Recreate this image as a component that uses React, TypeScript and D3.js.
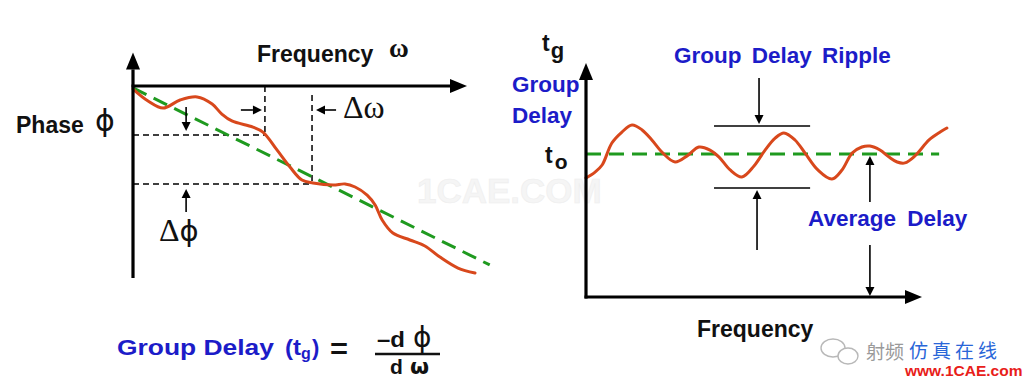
import React from "react";
import * as d3 from "d3";

// ---------- Left panel data (frequency ω vs phase ϕ) ----------
const phaseFreq = [0, 4.5, 9.0, 14.1, 19.2, 23.7, 26.6, 29.6, 35.9, 38.9, 43.1, 47.0, 50.6, 53.9, 59.9, 63.5, 66.5, 70.1, 72.5, 74.6, 77.8, 82.9, 87.4, 91.9, 97.3, 102.4];
const phaseValues = [-1.6, -7.8, -11.5, -7.3, -5.7, -9.4, -14.6, -18.2, -21.4, -24.0, -33.3, -42.2, -49.0, -50.5, -51.6, -51.0, -52.6, -56.8, -62.0, -69.8, -76.6, -80.2, -83.3, -89.1, -94.8, -97.4];
const phaseTrendFreq = [0, 106.8];
const phaseTrendValues = [-1.0, -93.2];
// Δω / Δϕ construction points
const deltaFreq = [39.5, 53.6];
const deltaPhase = [-25.5, -51.0];

// ---------- Right panel data (frequency vs group delay) ----------
const delayFreq = [0, 2.7, 4.8, 7.7, 10.7, 13.7, 16.7, 19.6, 22.9, 26.5, 30.1, 33.6, 36.9, 39.6, 42.9, 46.4, 50.0, 53.3, 56.3, 58.9, 62.2, 65.2, 69.0, 73.2, 76.2, 79.2, 82.1, 84.5, 87.5, 90.2, 92.6, 94.9, 97.9, 102.1, 105.4, 107.4];
const delayValues = [50.9, 53.4, 56.4, 65.8, 70.5, 73.5, 71.4, 67.1, 61.5, 57.7, 60.3, 64.1, 62.8, 59.8, 54.3, 51.3, 56.0, 62.8, 67.9, 70.1, 67.1, 61.5, 54.3, 50.4, 54.3, 61.5, 64.1, 64.5, 62.8, 59.8, 57.7, 57.3, 60.3, 67.1, 70.5, 72.2];
const averageDelay = 61.1;
const averageDelayEnd = 105.1;
const rippleTop = 73.1;
const rippleBottom = 46.6;
const rippleSpan = [38.1, 66.7];
const rippleArrowFreq = 51.2;
const averageArrowFreq = 84.5;

const RED = "#d8481c";
const GREEN = "#1f9a1f";
const BLUE = "#1c1cc8";
const SANS = "'Liberation Sans', Arial, sans-serif";

function Arrow({ x1, y1, x2, y2, w = 1.6, head = 9, hw = 4.5, color = "#000" }: any) {
  const ang = Math.atan2(y2 - y1, x2 - x1);
  const bx = x2 - head * Math.cos(ang);
  const by = y2 - head * Math.sin(ang);
  const px = -Math.sin(ang) * hw;
  const py = Math.cos(ang) * hw;
  return (
    <g>
      <line x1={x1} y1={y1} x2={bx} y2={by} stroke={color} strokeWidth={w} />
      <polygon points={`${x2},${y2} ${bx + px},${by + py} ${bx - px},${by - py}`} fill={color} />
    </g>
  );
}

export default function App() {
  const xL = d3.scaleLinear().domain([0, 100]).range([133, 467]);
  const yL = d3.scaleLinear().domain([0, -100]).range([86, 278]);
  const xR = d3.scaleLinear().domain([0, 100]).range([586, 922]);
  const yR = d3.scaleLinear().domain([0, 100]).range([297, 63]);

  const phaseLine = d3
    .line<number>()
    .x((_, i) => xL(phaseFreq[i]))
    .y((d) => yL(d))
    .curve(d3.curveCatmullRom.alpha(0.5));
  const delayLine = d3
    .line<number>()
    .x((_, i) => xR(delayFreq[i]))
    .y((d) => yR(d))
    .curve(d3.curveCatmullRom.alpha(0.5));

  return (
    <svg width={1024} height={379} style={{ position: "absolute", left: 0, top: 0, background: "#fff" }}>
      <rect width={1024} height={379} fill="#fff" />
      {/* watermark */}
      <text x={417} y={203} fontFamily={SANS} fontWeight="bold" fontSize={35} fill="#f5f5f5" stroke="#eeeeee" strokeWidth={0.6}>1CAE.COM</text>

      {/* ================= LEFT PANEL ================= */}
      <g stroke="#000" strokeWidth={1.5} strokeDasharray="6,4" fill="none">
        <line x1={xL(deltaFreq[0])} y1={yL(0)} x2={xL(deltaFreq[0])} y2={yL(deltaPhase[0])} />
        <line x1={xL(deltaFreq[1])} y1={yL(-4.7)} x2={xL(deltaFreq[1])} y2={yL(deltaPhase[1])} />
        <line x1={xL(0)} y1={yL(deltaPhase[0])} x2={xL(deltaFreq[0])} y2={yL(deltaPhase[0])} />
        <line x1={xL(0)} y1={yL(deltaPhase[1])} x2={xL(deltaFreq[1])} y2={yL(deltaPhase[1])} />
      </g>
      <line x1={xL(phaseTrendFreq[0])} y1={yL(phaseTrendValues[0])} x2={xL(phaseTrendFreq[1])} y2={yL(phaseTrendValues[1])}
        stroke={GREEN} strokeWidth={3} strokeDasharray="15,8" />
      <path d={phaseLine(phaseValues) || ""} fill="none" stroke={RED} strokeWidth={3} strokeLinecap="round" />
      <Arrow x1={xL(0)} y1={yL(-100)} x2={xL(0)} y2={yL(17.5)} w={3.2} head={17} hw={7} />
      <Arrow x1={xL(0) - 1.5} y1={yL(0)} x2={xL(100)} y2={yL(0)} w={3.2} head={17} hw={7} />
      <Arrow x1={xL(32.3)} y1={110} x2={xL(deltaFreq[0]) - 3} y2={110} />
      <Arrow x1={xL(60.8)} y1={110} x2={xL(deltaFreq[1]) + 4} y2={110} />
      <Arrow x1={xL(15.9)} y1={107} x2={xL(15.9)} y2={yL(deltaPhase[0]) - 4} />
      <Arrow x1={xL(15.9)} y1={212} x2={xL(15.9)} y2={yL(deltaPhase[1]) + 5} />

      <text x={257} y={62} fontFamily={SANS} fontWeight="bold" fontSize={23} fill="#111">Frequency</text>
      <text x={389} y={57} fontFamily="'Liberation Serif', serif" fontWeight="bold" fontSize={27} fill="#111">ω</text>
      <text x={16} y={133} fontFamily={SANS} fontWeight="bold" fontSize={23} fill="#111">Phase</text>
      <text x={95} y={131} fontFamily="'DejaVu Sans', sans-serif" fontSize={30} fill="#111">ϕ</text>
      <text x={343} y={118} fontFamily="'Liberation Serif', serif" fontSize={32} fill="#111">Δω</text>
      <text x={159} y={241} fontFamily="'Liberation Serif', serif" fontSize={32} fill="#111">Δ<tspan fontFamily="'DejaVu Sans', sans-serif" fontSize={29}>ϕ</tspan></text>

      {/* ================= RIGHT PANEL ================= */}
      <line x1={xR(0)} y1={yR(averageDelay)} x2={xR(averageDelayEnd)} y2={yR(averageDelay)}
        stroke={GREEN} strokeWidth={3} strokeDasharray="15,8" />
      <path d={delayLine(delayValues) || ""} fill="none" stroke={RED} strokeWidth={3} strokeLinecap="round" />
      <Arrow x1={xR(0)} y1={yR(0) + 1.5} x2={xR(0)} y2={yR(100)} w={3.2} head={17} hw={7} />
      <Arrow x1={xR(0) - 1.5} y1={yR(0)} x2={xR(100)} y2={yR(0)} w={3.2} head={17} hw={7} />

      <g stroke="#000" strokeWidth={1.6}>
        <line x1={xR(rippleSpan[0])} y1={yR(rippleTop)} x2={xR(rippleSpan[1])} y2={yR(rippleTop)} />
        <line x1={xR(rippleSpan[0])} y1={yR(rippleBottom)} x2={xR(rippleSpan[1])} y2={yR(rippleBottom)} />
      </g>
      <Arrow x1={xR(rippleArrowFreq) + 1} y1={78} x2={xR(rippleArrowFreq) + 1} y2={yR(rippleTop) - 2} />
      <Arrow x1={xR(rippleArrowFreq) - 1} y1={250} x2={xR(rippleArrowFreq) - 1} y2={yR(rippleBottom) + 2} />
      <Arrow x1={xR(averageArrowFreq)} y1={202} x2={xR(averageArrowFreq)} y2={yR(averageDelay) + 2} />
      <Arrow x1={xR(averageArrowFreq)} y1={245} x2={xR(averageArrowFreq)} y2={yR(0) - 1} />

      <text x={542} y={51} fontFamily={SANS} fontWeight="bold" fontSize={23} fill="#111">t<tspan dx={1} dy={7} fontSize={22}>g</tspan></text>
      <text x={512} y={92} fontFamily={SANS} fontWeight="bold" fontSize={22.5} fill={BLUE}>Group</text>
      <text x={512} y={123} fontFamily={SANS} fontWeight="bold" fontSize={22.5} fill={BLUE}>Delay</text>
      <text x={545} y={163} fontFamily={SANS} fontWeight="bold" fontSize={23} fill="#111">t<tspan dx={2} dy={6} fontSize={21}>o</tspan></text>
      <text x={674} y={63} fontFamily={SANS} fontWeight="bold" fontSize={22.5} fill={BLUE} wordSpacing={4}>Group Delay Ripple</text>
      <text x={808} y={226} fontFamily={SANS} fontWeight="bold" fontSize={22.5} fill={BLUE} wordSpacing={5}>Average Delay</text>
      <text x={697} y={337} fontFamily={SANS} fontWeight="bold" fontSize={23} fill="#111">Frequency</text>

      {/* formula */}
      <text x={117} y={355} fontFamily={SANS} fontWeight="bold" fontSize={22} fill={BLUE} textLength={157} lengthAdjust="spacingAndGlyphs">Group Delay</text>
      <text x={285} y={355} fontFamily={SANS} fontWeight="bold" fontSize={22} fill={BLUE} textLength={16} lengthAdjust="spacingAndGlyphs">(t</text>
      <text x={301} y={359} fontFamily={SANS} fontWeight="bold" fontSize={16} fill={BLUE}>g</text>
      <text x={312} y={355} fontFamily={SANS} fontWeight="bold" fontSize={22} fill={BLUE}>)</text>
      <text x={330} y={358} fontFamily={SANS} fontWeight="bold" fontSize={27} fill="#111" textLength={18} lengthAdjust="spacingAndGlyphs">=</text>
      <text x={377} y={347} fontFamily={SANS} fontWeight="bold" fontSize={22} fill="#111" textLength={28} lengthAdjust="spacingAndGlyphs">–d</text>
      <text x={413} y={347} fontFamily="'DejaVu Sans', sans-serif" fontSize={28} fill="#111">ϕ</text>
      <line x1={375} y1={354} x2={440} y2={354} stroke="#111" strokeWidth={2.4} />
      <text x={390} y={374} fontFamily={SANS} fontWeight="bold" fontSize={21} fill="#111">d</text>
      <text x={410} y={374} fontFamily="'DejaVu Sans', sans-serif" fontWeight="bold" fontSize={22} fill="#111">ω</text>

      {/* logo */}
      <g fill="none" stroke="#b8b8b8" strokeWidth={1.4}>
        <ellipse cx={833} cy={348} rx={12} ry={9} />
        <ellipse cx={848} cy={356} rx={10} ry={8} fill="#fff" />
      </g>
      <text x={866} y={359} fontFamily="'Noto Sans CJK SC', sans-serif" fontSize={19} fill="#9a9a9a">射频</text>
      <text x={909} y={358} fontFamily="'Noto Sans CJK SC', sans-serif" fontSize={19} fill="#2a66d8" letterSpacing={4}>仿真在线</text>
      <text x={905} y={376} fontFamily={SANS} fontWeight="bold" fontSize={15.5} fill="#e8201a">www.1CAE.com</text>
    </svg>
  );
}
